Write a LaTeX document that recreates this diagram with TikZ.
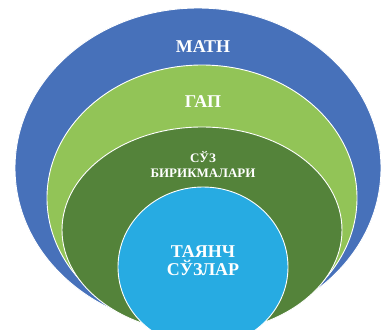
\documentclass[tikz,border=0pt]{standalone}
\usepackage{fontspec}
\setmainfont{Liberation Serif}
\definecolor{cblue}{HTML}{4771BA}
\definecolor{clgreen}{HTML}{92C457}
\definecolor{cdgreen}{HTML}{54833A}
\definecolor{ccyan}{HTML}{27ABE2}
\tikzset{
  ring/.style={draw=white, line width=0.9pt},
  lbl/.style={text=white, font=\bfseries, align=center, inner sep=0pt}
}
\begin{document}
\begin{tikzpicture}[x=1pt,y=-1pt]
\useasboundingbox (0,0) rectangle (381,330);
\fill[white] (0,0) rectangle (381,330);
\begin{scope}
\clip (0,0) rectangle (381,330);
\filldraw[ring, fill=cblue] (198,168) ellipse [x radius=183pt, y radius=160pt];
\filldraw[ring, fill=clgreen] (202,198) ellipse [x radius=155pt, y radius=133pt];
\filldraw[ring, fill=cdgreen] (202,230) ellipse [x radius=140pt, y radius=103pt];
\filldraw[ring, fill=ccyan] (203,267) ellipse [x radius=85pt, y radius=80pt];
\end{scope}
\node[lbl, font=\bfseries\fontsize{18}{18}\selectfont] (matn) at (203,47) {МАТН};
\node[lbl, font=\bfseries\fontsize{18}{18}\selectfont] (gap) at (203,102) {ГАП};
\node[lbl, font=\bfseries\fontsize{13}{15}\selectfont] (soz) at (203,165) {СЎЗ\\БИРИКМАЛАРИ};
\node[lbl, font=\bfseries\fontsize{18}{18}\selectfont] (tayanch) at (203,261) {ТАЯНЧ\\СЎЗЛАР};
\end{tikzpicture}
\end{document}
